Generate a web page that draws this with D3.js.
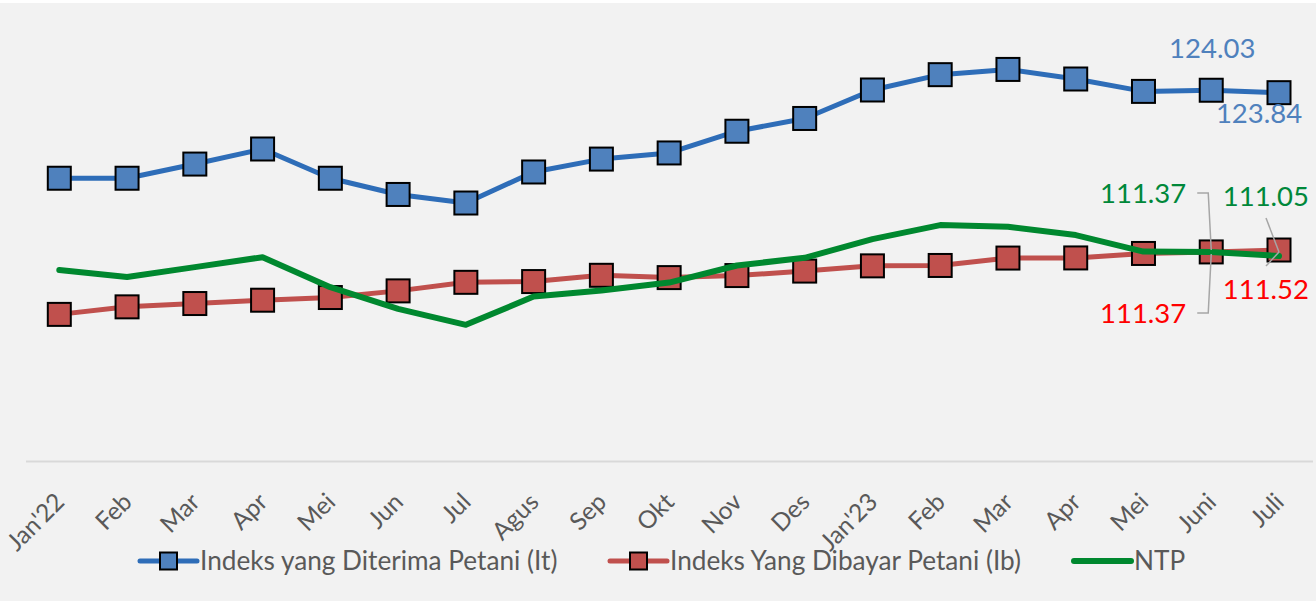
<!DOCTYPE html>
<html>
<head>
<meta charset="utf-8">
<script src="https://cdn.jsdelivr.net/npm/d3@7"></script>
<style>
  html, body { margin: 0; padding: 0; background: #ffffff; }
  svg { display: block; }
</style>
</head>
<body>
<svg id="chart" width="1316" height="601"></svg>
<script>
// ---- Data ----
const categories = ["Jan'22","Feb","Mar","Apr","Mei","Jun","Jul","Agus","Sep","Okt","Nov","Des","Jan'23","Feb","Mar","Apr","Mei","Juni","Juli"];
const itValues  = [117.14,117.14,118.25,119.43,117.14,115.87,115.20,117.63,118.64,119.12,120.82,121.82,124.05,125.25,125.66,124.91,123.94,124.03,123.84];
const ibValues  = [106.48,107.07,107.33,107.59,107.80,108.32,108.99,109.05,109.54,109.36,109.52,109.87,110.28,110.31,110.89,110.90,111.25,111.37,111.52];
const ntpValues = [109.95,109.40,110.18,110.96,108.61,106.91,105.66,107.88,108.35,108.97,110.31,110.91,112.37,113.47,113.34,112.69,111.40,111.37,111.05];
const seriesNames = ["Indeks yang Diterima Petani (It)", "Indeks Yang Dibayar Petani (Ib)", "NTP"];
const yDomain = [95, 130];

const svg = d3.select("#chart");
const W = 1316, H = 601;
const FONT = "Lato, 'Open Sans', sans-serif";

svg.append("rect").attr("x", 0).attr("y", 3).attr("width", W).attr("height", H - 3).attr("fill", "#F2F2F2");

const idx = categories.map((c, i) => i);
const x = d3.scalePoint().domain(idx).range([59.3, 1279]);
const y = d3.scaleLinear().domain(yDomain).range([461, 14]);

// x axis
const xAxis = d3.axisBottom(x).tickSize(0).tickFormat(i => categories[i]);
const gx = svg.append("g").attr("transform", "translate(0,461.5)").call(xAxis);
gx.select(".domain").attr("d", "M26,0H1313").attr("stroke", "#D9D9D9").attr("stroke-width", 2);
gx.selectAll(".tick text")
  .attr("font-family", FONT).attr("font-size", 24.5).attr("fill", "#595959")
  .attr("text-anchor", "end").attr("dy", null).attr("y", null)
  .attr("transform", "translate(6,42) rotate(-45)");

function drawSeries(values, lineColor, lineWidth, marker, markerFill) {
  const pts = values.map((v, i) => [x(i), y(v)]);
  svg.append("path").attr("d", d3.line()(pts))
    .attr("fill", "none").attr("stroke", lineColor).attr("stroke-width", lineWidth)
    .attr("stroke-linejoin", "round").attr("stroke-linecap", "round");
  if (marker) {
    const s = 23;
    svg.append("g").selectAll("rect").data(values).join("rect")
      .attr("x", (v, i) => x(i) - s / 2).attr("y", v => y(v) - s / 2)
      .attr("width", s).attr("height", s)
      .attr("fill", markerFill).attr("stroke", "#000").attr("stroke-width", 2);
  }
}
drawSeries(itValues, "#2E6DB8", 5, true, "#4F81BD");
drawSeries(ibValues, "#C0504D", 5, true, "#C0504D");
drawSeries(ntpValues, "#00882F", 6, false, null);

// ---- Data labels ----
const n = categories.length;
const iJ = n - 2, iL = n - 1;
const fmt = d3.format(".2f");
function label(txt, px, py, color, anchor) {
  svg.append("text").attr("x", px).attr("y", py).text(txt)
    .attr("font-family", FONT).attr("font-size", 27.5).attr("fill", color)
    .attr("text-anchor", anchor || "start");
}
const leader = "#A6A6A6";
function leaderLine(pts) {
  svg.append("path").attr("d", d3.line()(pts)).attr("fill", "none")
    .attr("stroke", leader).attr("stroke-width", 1.5);
}
// It labels
label(fmt(itValues[iJ]), x(iJ) + 1, y(itValues[iJ]) - 32, "#4F81BD", "middle");
label(fmt(itValues[iL]), x(iL) - 20, y(itValues[iL]) + 30, "#4F81BD", "middle");
// NTP labels (green) and Ib labels (red)
label(fmt(ntpValues[iJ]), x(iJ) - 25, y(ntpValues[iJ]) - 49, "#00883A", "end");
label(fmt(ntpValues[iL]), x(iL) + 30, y(ntpValues[iL]) - 50, "#00883A", "end");
label(fmt(ibValues[iL]), x(iL) + 30, y(ibValues[iL]) + 49, "#FF0000", "end");
label(fmt(ibValues[iJ]), x(iJ) - 25, y(ibValues[iJ]) + 71, "#FF0000", "end");
// leader lines
leaderLine([[x(iJ) - 14, y(ntpValues[iJ]) - 59], [x(iJ) - 3, y(ntpValues[iJ]) - 59], [x(iJ), y(ntpValues[iJ]) - 2]]);
leaderLine([[x(iJ) - 14, y(ibValues[iJ]) + 61], [x(iJ) - 3, y(ibValues[iJ]) + 61], [x(iJ), y(ibValues[iJ]) + 2]]);
leaderLine([[x(iL) - 13, y(ntpValues[iL]) - 38], [x(iL), y(ntpValues[iL]) - 4]]);
leaderLine([[x(iL) - 13, y(ibValues[iL]) + 16], [x(iL), y(ibValues[iL]) + 2]]);

// ---- Legend ----
const legendItems = [
  {name: seriesNames[0], color: "#2E6DB8", fill: "#4F81BD", marker: true, x0: 140, w: 57, width: 5},
  {name: seriesNames[1], color: "#C0504D", fill: "#C0504D", marker: true, x0: 610, w: 57, width: 5},
  {name: seriesNames[2], color: "#00882F", fill: null, marker: false, x0: 1074, w: 57, width: 6}
];
const ly = 561;
legendItems.forEach(it => {
  const g = svg.append("g");
  g.append("line").attr("x1", it.x0).attr("x2", it.x0 + it.w).attr("y1", ly).attr("y2", ly)
    .attr("stroke", it.color).attr("stroke-width", it.width).attr("stroke-linecap", "round");
  if (it.marker) {
    g.append("rect").attr("x", it.x0 + it.w / 2 - 8.5).attr("y", ly - 8.5).attr("width", 17).attr("height", 17)
      .attr("fill", it.fill).attr("stroke", "#000").attr("stroke-width", 2);
  }
  g.append("text").attr("x", it.x0 + it.w + 3).attr("y", ly + 9).text(it.name)
    .attr("font-family", FONT).attr("font-size", 26.2).attr("fill", "#595959");
});
</script>
</body>
</html>
